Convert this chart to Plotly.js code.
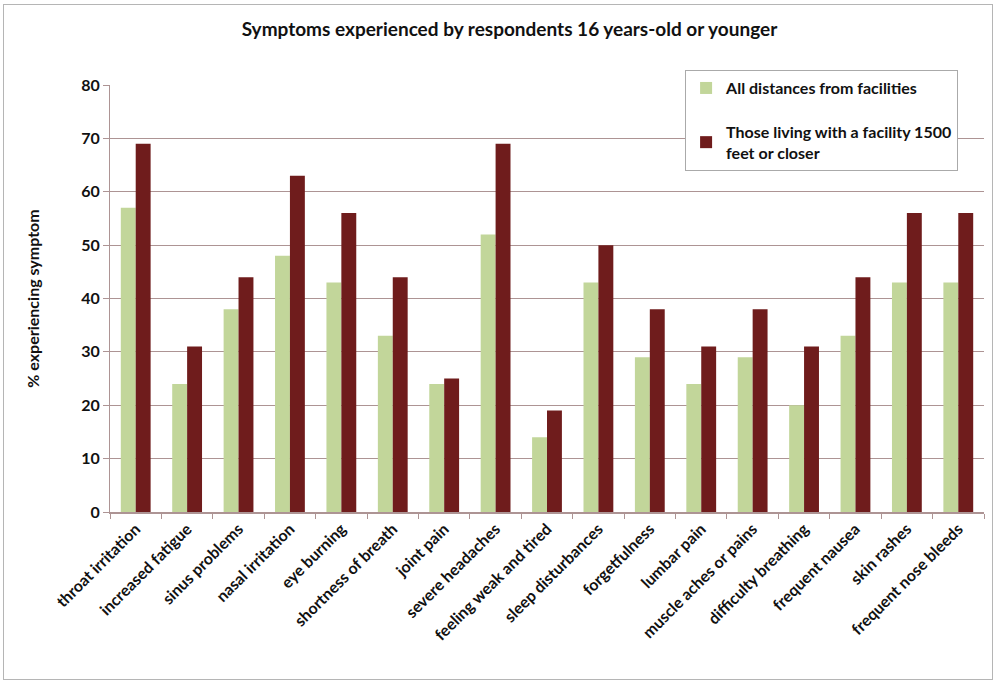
<!DOCTYPE html>
<html>
<head>
<meta charset="utf-8">
<script src="https://cdn.plot.ly/plotly-3.0.1.min.js"></script>
<style>
html,body{margin:0;padding:0;background:#fff;}
#wrap{position:relative;width:997px;height:684px;}
#chart{width:997px;height:684px;}
#frame{position:absolute;left:3px;top:4px;width:988px;height:674px;border:1px solid #b5b5b5;pointer-events:none;}
</style>
</head>
<body>
<div id="wrap"><div id="chart"></div><div id="frame"></div></div>
<script>
const categories = ["throat irritation","increased fatigue","sinus problems","nasal irritation","eye burning","shortness of breath","joint pain","severe headaches","feeling weak and tired","sleep disturbances","forgetfulness","lumbar pain","muscle aches or pains","difficulty breathing","frequent nausea","skin rashes","frequent nose bleeds"];
const allDistances = [57,24,38,48,43,33,24,52,14,43,29,24,29,20,33,43,43];
const within1500 = [69,31,44,63,56,44,25,69,19,50,38,31,38,31,44,56,56];
const seriesNames = ["All distances from facilities","Those living with a facility 1500<br>feet or closer"];
const yTicks = [0,10,20,30,40,50,60,70,80];

const font = "Lato, 'Open Sans', sans-serif";
const axisCol = "#ad9494";
const data = [
  {type:"bar", x:categories, y:allDistances, name:seriesNames[0], legendgroup:"g1", marker:{color:"#c2d69a"}},
  {type:"bar", x:categories, y:within1500, name:seriesNames[1], legendgroup:"g2", marker:{color:"#6f1c1c"}}
];
const layout = {
  width:997, height:684,
  margin:{l:110, r:13, t:85, b:172},
  paper_bgcolor:"#fff", plot_bgcolor:"#fff",
  font:{family:font, color:"#111", size:15},
  title:{text:"<b>Symptoms experienced by respondents 16 years-old or younger</b>", x:0.511, xanchor:"center", y:0.957, yanchor:"middle", font:{family:font, size:19, color:"#111"}},
  barmode:"group", bargap:0.42, bargroupgap:0,
  xaxis:{tickangle:-45, tickfont:{family:font, size:16, color:"#111", weight:"bold"}, showline:true, linecolor:axisCol, linewidth:1.5, ticks:"outside", tickson:"boundaries", ticklen:5, tickcolor:axisCol, showgrid:false, automargin:false},
  yaxis:{range:[0,80], tickvals:yTicks, tickfont:{family:font, size:16, color:"#111", weight:"bold"}, showline:true, linecolor:axisCol, linewidth:1, ticks:"outside", ticklen:6, tickcolor:axisCol, gridcolor:axisCol, gridwidth:1, zeroline:false, automargin:false,
    title:{text:"<b>% experiencing symptom</b>", font:{family:font, size:16, color:"#111"}, standoff:37}},
  legend:{x:0.658, y:1.035, xanchor:"left", yanchor:"top", bgcolor:"#fff", bordercolor:"#aaa", borderwidth:1, font:{family:font, size:16, color:"#111", weight:"bold"}, tracegroupgap:20, itemwidth:30, traceorder:"grouped"},
  showlegend:true
};
Plotly.newPlot("chart", data, layout, {displayModeBar:false, staticPlot:true});
</script>
</body>
</html>
